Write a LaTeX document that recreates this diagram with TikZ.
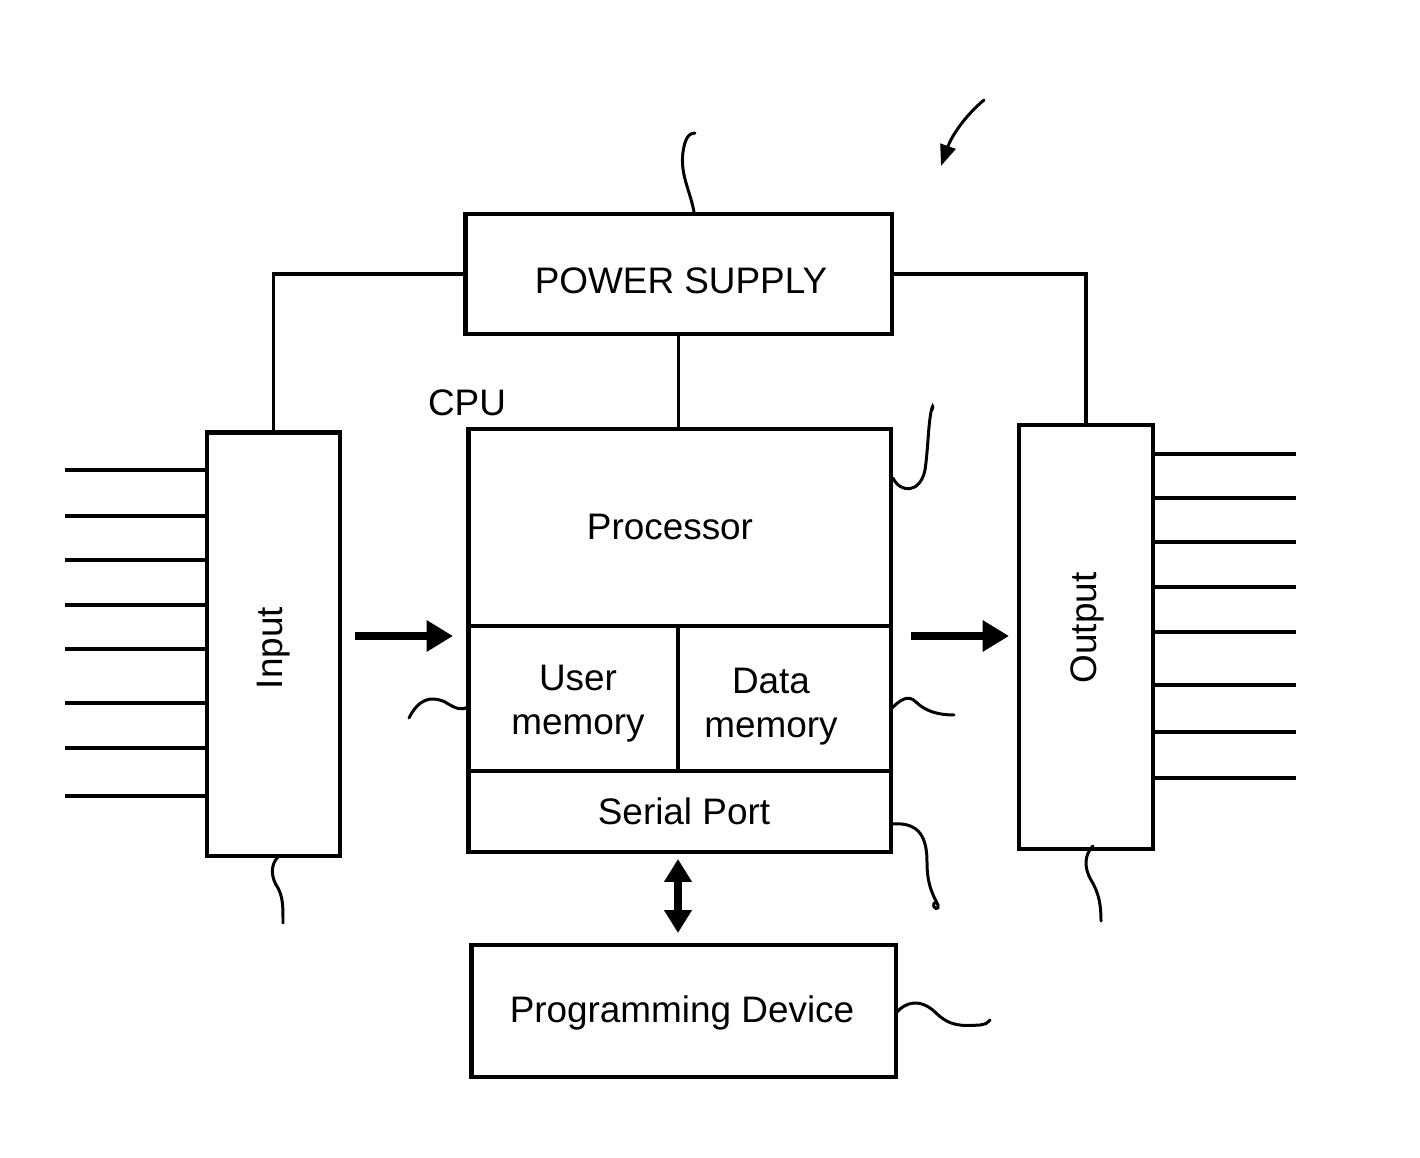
\documentclass[tikz,border=0pt]{standalone}
\usepackage{fontspec}
\setmainfont{Liberation Sans}
\usetikzlibrary{arrows.meta,calc}
\begin{document}
\begin{tikzpicture}[x=0.02cm,y=-0.02cm,
  box/.style={draw,line width=2.8pt,inner sep=0pt,font=\fontsize{21}{25}\selectfont,align=center},
  wire/.style={line width=2.1pt},
  lead/.style={line width=2.2pt},
  squig/.style={line width=1.7pt,line cap=round},
  bigarrow/.style={line width=4.8pt,-{Triangle[length=15pt,width=17pt]}},
  dblarrow/.style={line width=4.8pt,{Triangle[length=13pt,width=15pt]}-{Triangle[length=13pt,width=15pt]}},
  lbl/.style={font=\fontsize{21}{25}\selectfont,inner sep=0pt}]
\useasboundingbox[fill=white] (0,0) rectangle (1420,1158);
% boxes
\node[box,minimum width=8.54cm,minimum height=2.4cm] (power) at (678.5,274) {};
\node[lbl] (powert) at (681,281) {POWER SUPPLY};
\node[box,minimum width=2.66cm,minimum height=8.48cm] (input) at (273.5,644) {};
\node[lbl,rotate=90] (inputt) at (274,648) {Input};
\node[box,minimum width=2.68cm,minimum height=8.48cm] (output) at (1086,637) {};
\node[lbl,rotate=90] (outputt) at (1087,628) {Output};
\node[box,minimum width=8.46cm,minimum height=8.46cm] (cpu) at (679.5,640.5) {};
\node[box,minimum width=8.46cm,minimum height=3.94cm] (proc) at (679.5,527.5) {};
\node[box,minimum width=4.2cm,minimum height=2.9cm] (umem) at (573,698.5) {};
\node[box,minimum width=4.26cm,minimum height=2.9cm] (dmem) at (784.5,698.5) {};
\node[box,minimum width=8.46cm,minimum height=1.62cm] (serial) at (679.5,811.5) {};
\node[box,minimum width=8.5cm,minimum height=2.64cm] (prog) at (683.5,1011) {};
\node[lbl] (proct) at (670,527) {Processor};
\node[lbl,align=center] (umemt) at (578,704) {User\\memory};
\node[lbl,align=center] (dmemt) at (771,707) {Data\\memory};
\node[lbl] (serialt) at (684,811) {Serial Port};
\node[lbl] (progt) at (682,1013) {Programming Device};
\node[lbl] (cput) at (467,403) {CPU};
% power wiring
\draw[wire] (power.west) -| (input.north);
\draw[wire] (power.east) -| (output.north);
\draw[wire] (power.south) -- (power.south |- cpu.north);
% input / output leads
\foreach \yy in {470,516,560,605,649,703,748,796}
  \draw[lead] (65,\yy) -- (input.west |- 0,\yy);
\foreach \yy in {454,498,542,587,632,685,732,778}
  \draw[lead] (output.east |- 0,\yy) -- (1296,\yy);
% arrows
\coordinate (a1s) at (355,636);
\coordinate (a1e) at (453,636);
\coordinate (a2s) at (911,636);
\coordinate (a2e) at (1009,636);
\coordinate (a3s) at (678,859);
\coordinate (a3e) at (678,933);
\draw[bigarrow] (a1s) -- (a1e);
\draw[bigarrow] (a2s) -- (a2e);
\draw[dblarrow] (a3s) -- (a3e);
% squiggles
\draw[squig] (694,212) .. controls (690,190) and (680,175) .. (683,152) .. controls (685,138) and (689,133) .. (695,133);
\draw[squig,-{Triangle[length=12pt,width=9pt]}] (984,100) .. controls (966,115) and (952,135) .. (941,166);
\draw[squig] (893,478) .. controls (900,493) and (920,494) .. (925,470) .. controls (928,450) and (928,428) .. (931,412) .. controls (932,406) and (934,404) .. (932,410);
\draw[squig] (409,718) .. controls (418,700) and (430,695) .. (445,702) .. controls (455,708) and (460,711) .. (468,707);
\draw[squig] (891,709) .. controls (900,700) and (908,694) .. (916,702) .. controls (926,712) and (940,715) .. (954,715);
\draw[squig] (891,824) .. controls (915,822) and (927,832) .. (927,862) .. controls (927,885) and (933,895) .. (938,905) .. controls (940,910) and (932,910) .. (934,903);
\draw[squig] (896,1013) .. controls (905,1002) and (920,998) .. (935,1012) .. controls (950,1027) and (962,1026) .. (980,1025) .. controls (986,1024) and (988,1023) .. (990,1020);
\draw[squig] (278,857) .. controls (270,865) and (271,878) .. (278,888) .. controls (283,898) and (283,906) .. (283,923);
\draw[squig] (1093,846) .. controls (1084,855) and (1084,868) .. (1091,880) .. controls (1099,893) and (1101,905) .. (1101,921);
\end{tikzpicture}
\end{document}
